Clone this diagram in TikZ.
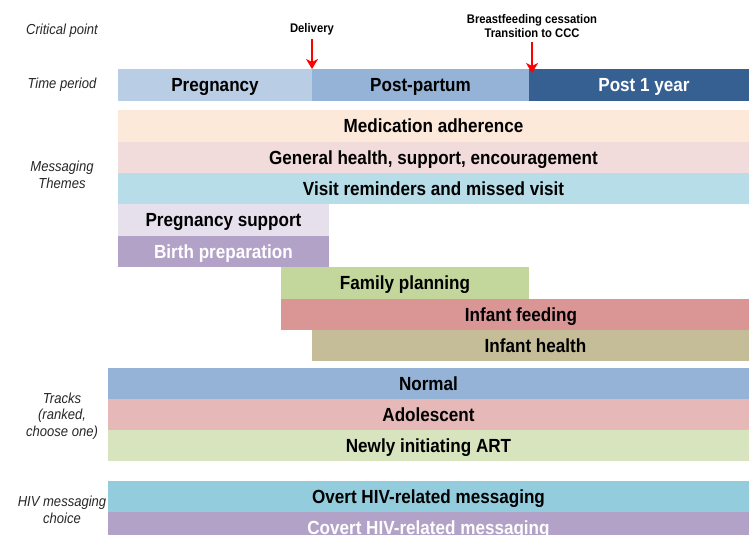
\documentclass[tikz,border=0pt]{standalone}
\usepackage{fontspec}
\setmainfont{Liberation Sans}
\newfontfamily\narrowfont[FakeStretch=0.9]{Liberation Sans}
\usetikzlibrary{arrows.meta}
\definecolor{cPreg}{HTML}{B9CDE5}
\definecolor{cPP}{HTML}{95B3D7}
\definecolor{cP1}{HTML}{376092}
\definecolor{cMed}{HTML}{FDE9D9}
\definecolor{cGen}{HTML}{F2DCDB}
\definecolor{cVis}{HTML}{B7DEE8}
\definecolor{cPsup}{HTML}{E6E0EC}
\definecolor{cBirth}{HTML}{B3A2C7}
\definecolor{cFam}{HTML}{C3D69B}
\definecolor{cInfF}{HTML}{D99694}
\definecolor{cInfH}{HTML}{C4BD97}
\definecolor{cNorm}{HTML}{95B3D7}
\definecolor{cAdol}{HTML}{E6B9B8}
\definecolor{cNew}{HTML}{D7E4BD}
\definecolor{cOvert}{HTML}{93CDDD}
\definecolor{cCovert}{HTML}{B3A2C7}
\definecolor{cArrow}{HTML}{FF0000}
\tikzset{
  barbox/.style={draw=none, inner sep=0pt, outer sep=0pt, anchor=north west,
    font=\narrowfont\fontsize{19}{22}\selectfont\bfseries, text=black,
    text height=13.6pt, text depth=0pt},
  sidelabel/.style={align=center, font=\narrowfont\fontsize{14.5}{16.5}\selectfont\itshape, text=black!85},
  critlabel/.style={align=center, font=\narrowfont\fontsize{12.5}{13.5}\selectfont\bfseries, text=black},
  redarrow/.style={draw=cArrow, line width=2.4pt, -{Stealth[length=10pt,width=12pt,inset=3pt]}}
}
\newcommand{\tbar}[7]{%
  \node[barbox, fill=#6, minimum width={(#4-#2)*1pt}, minimum height={(#5-#3)*1pt}] (#1) at (#2,#3) {#7};}
\begin{document}
\begin{tikzpicture}[x=1pt,y=-1pt]
\useasboundingbox (0,0) rectangle (749,535);
\clip (0,0) rectangle (749,535);
% side labels
\node[sidelabel] (lcrit) at (62,31) {Critical point};
\node[sidelabel] (ltime) at (62,85) {Time period};
\node[sidelabel] (lmsg) at (62,175) {Messaging\\Themes};
\node[sidelabel] (ltrack) at (62,416) {Tracks\\(ranked,\\choose one)};
\node[sidelabel] (lhiv) at (62,510) {HIV messaging\\choice};
% time period
\tbar{preg}{118}{69}{312}{101}{cPreg}{Pregnancy}
\tbar{pp}{312}{69}{529}{101}{cPP}{Post-partum}
\tbar{p1}{529}{69}{749}{101}{cP1}{\textcolor{white}{\hspace{10pt}Post 1 year}}
% critical points
\node[critlabel] (deliv) at (312,29) {Delivery};
\node[critlabel] (bf) at (532,26) {Breastfeeding cessation\\Transition to CCC};
\coordinate (bfend) at (532,73);
\draw[redarrow] (deliv.south) ++(0,1) -- (preg.north east);
\draw[redarrow] (bf.south) ++(0,1) -- (bfend);
% themes
\tbar{med}{118}{110}{749}{142}{cMed}{Medication adherence}
\tbar{gen}{118}{142}{749}{173}{cGen}{General health, support, encouragement}
\tbar{vis}{118}{173}{749}{204}{cVis}{Visit reminders and missed visit}
\tbar{psup}{118}{204}{329}{236}{cPsup}{Pregnancy support}
\tbar{birth}{118}{236}{329}{267}{cBirth}{\textcolor{white}{Birth preparation}}
\tbar{fam}{281}{267}{529}{299}{cFam}{Family planning}
\tbar{infF}{281}{299}{749}{330}{cInfF}{\hspace{12pt}Infant feeding}
\tbar{infH}{312}{330}{749}{361}{cInfH}{\hspace{10pt}Infant health}
% tracks
\tbar{norm}{108}{368}{749}{399}{cNorm}{Normal}
\tbar{adol}{108}{399}{749}{430}{cAdol}{Adolescent}
\tbar{new}{108}{430}{749}{461}{cNew}{Newly initiating ART}
% HIV messaging
\tbar{overt}{108}{481}{749}{512}{cOvert}{Overt HIV-related messaging}
\tbar{covert}{108}{512}{749}{543}{cCovert}{\textcolor{white}{Covert HIV-related messaging}}
\end{tikzpicture}
\end{document}
